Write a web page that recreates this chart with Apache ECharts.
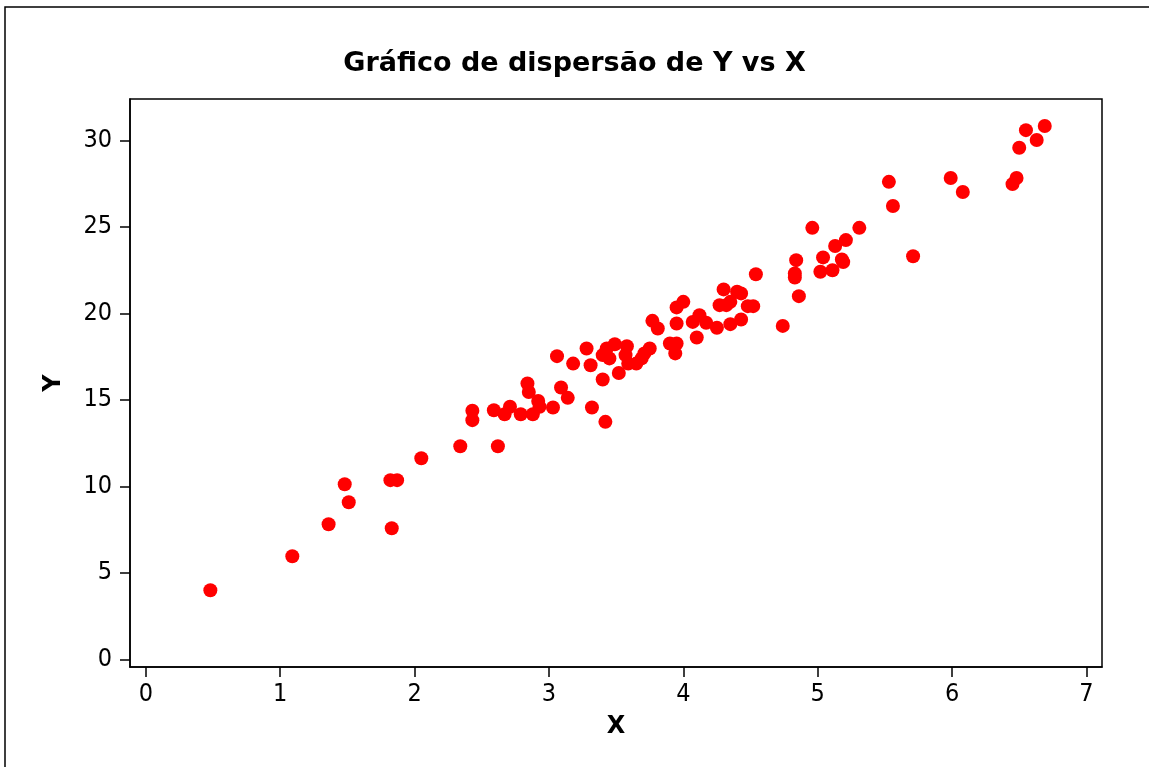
<!DOCTYPE html>
<html>
<head>
<meta charset="utf-8">
<script src="https://cdn.jsdelivr.net/npm/echarts@6/dist/echarts.min.js"></script>
<style>
  html, body { margin: 0; padding: 0; background: #fff; }
  #chart { width: 1149px; height: 767px; }
</style>
</head>
<body>
<div id="chart"></div>
<script>
// valores
const xValues = [
  0.48, 1.09, 1.36, 1.48, 1.51, 1.82, 1.87, 1.83, 2.05, 2.34,
  2.62, 2.43, 2.43, 2.59, 2.67, 2.71, 2.79, 2.84, 2.85, 2.92,
  2.93, 2.88, 3.03, 3.09, 3.14, 3.06, 3.32, 3.42, 3.18, 3.28,
  3.31, 3.40, 3.40, 3.43, 3.45, 3.49, 3.52, 3.57, 3.58, 3.59,
  3.65, 3.69, 3.71, 3.75, 3.77, 3.81, 3.90, 3.95, 3.94, 3.95,
  3.95, 4.00, 4.10, 4.07, 4.12, 4.17, 4.25, 4.35, 4.43, 4.27,
  4.32, 4.35, 4.30, 4.40, 4.43, 4.48, 4.52, 4.54, 4.74, 4.83,
  4.83, 4.84, 4.86, 4.96, 5.02, 5.04, 5.11, 5.13, 5.18, 5.19,
  5.21, 5.31, 5.53, 5.56, 5.71, 5.99, 6.08, 6.45, 6.48, 6.50,
  6.55, 6.63, 6.69
];
const yValues = [
  3.99, 5.96, 7.81, 10.12, 9.08, 10.36, 10.36, 7.58, 11.63, 12.32,
  12.32, 14.37, 13.83, 14.40, 14.17, 14.60, 14.17, 15.95, 15.46, 14.94,
  14.60, 14.17, 14.56, 15.72, 15.12, 17.53, 14.56, 13.73, 17.10, 17.97,
  17.00, 16.18, 17.59, 17.97, 17.40, 18.22, 16.56, 17.59, 18.10, 17.10,
  17.10, 17.40, 17.69, 17.97, 19.57, 19.13, 18.26, 18.26, 17.69, 19.42,
  20.35, 20.67, 18.61, 19.51, 19.90, 19.46, 19.17, 19.38, 19.65, 20.48,
  20.48, 20.67, 21.39, 21.25, 21.16, 20.42, 20.42, 22.27, 19.28, 22.31,
  22.08, 23.08, 21.00, 24.95, 22.41, 23.24, 22.50, 23.90, 23.12, 22.97,
  24.24, 24.95, 27.61, 26.21, 23.31, 27.83, 27.02, 27.48, 27.83, 29.58,
  30.60, 30.03, 30.84
];
const xTicks = [0, 1, 2, 3, 4, 5, 6, 7];
const yTicks = [0, 5, 10, 15, 20, 25, 30];

const labelFont = "'DejaVu Sans Condensed', 'DejaVu Sans', sans-serif";
const titleFont = "'DejaVu Sans', sans-serif";
const points = xValues.map((x, i) => [x, yValues[i]]);

const chart = echarts.init(document.getElementById('chart'));
const option = {
  animation: false,
  backgroundColor: '#ffffff',
  // moldura externa
  graphic: [
    {
      type: 'rect',
      shape: { x: 5, y: 7, width: 1300, height: 900 },
      style: { fill: 'none', stroke: '#000', lineWidth: 1.5 },
      z: -1,
    },
  ],
  title: {
    text: 'Gráfico de dispersão de Y vs X',
    left: 'center',
    top: 45,
    textStyle: {
      fontFamily: titleFont,
      fontSize: 27,
      fontWeight: 'bold',
      color: '#000',
    },
  },
  grid: {
    left: 130,
    right: 47,
    top: 99,
    bottom: 100,
    show: true,
    borderColor: '#000',
    borderWidth: 1.5,
    backgroundColor: '#fff',
  },
  xAxis: {
    type: 'value',
    min: -0.118,
    max: 7.116,
    name: 'X',
    nameLocation: 'middle',
    nameGap: 48,
    nameTextStyle: {
      fontFamily: titleFont,
      fontSize: 24,
      fontWeight: 'bold',
      color: '#000',
    },
    axisLine: { show: true, onZero: false, lineStyle: { color: '#000', width: 1.5 } },
    axisTick: {
      show: true,
      inside: false,
      length: 10,
      customValues: xTicks,
      lineStyle: { color: '#000', width: 1.5 },
    },
    axisLabel: {
      customValues: xTicks,
      margin: 15,
      fontFamily: labelFont,
      fontSize: 25,
      color: '#000',
    },
    splitLine: { show: false },
  },
  yAxis: {
    type: 'value',
    min: -0.445,
    max: 32.4,
    name: 'Y',
    nameLocation: 'middle',
    nameGap: 64,
    nameTextStyle: {
      fontFamily: titleFont,
      fontSize: 24,
      fontWeight: 'bold',
      color: '#000',
    },
    axisLine: { show: true, onZero: false, lineStyle: { color: '#000', width: 1.5 } },
    axisTick: {
      show: true,
      inside: false,
      length: 10,
      customValues: yTicks,
      lineStyle: { color: '#000', width: 1.5 },
    },
    axisLabel: {
      customValues: yTicks,
      margin: 18,
      fontFamily: labelFont,
      fontSize: 25,
      color: '#000',
    },
    splitLine: { show: false },
  },
  series: [
    {
      name: 'Y',
      type: 'scatter',
      symbol: 'circle',
      symbolSize: 14,
      itemStyle: { color: '#ff0000', opacity: 1 },
      data: points,
    },
  ],
};
chart.setOption(option);
</script>
</body>
</html>
